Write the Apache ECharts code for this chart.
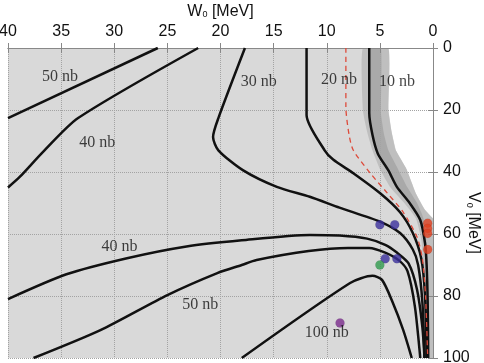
<!DOCTYPE html>
<html>
<head>
<meta charset="utf-8">
<script src="https://cdn.jsdelivr.net/npm/echarts@6/dist/echarts.min.js"></script>
<style>
  html, body { margin: 0; padding: 0; background: #fff; }
  #chart { width: 484px; height: 363px; }
</style>
</head>
<body>
<div id="chart"></div>
<script>
// axis ticks
var wTicks = [0, 40, 5];   // min, max, interval  (W0, MeV)
var vTicks = [0, 100, 20]; // min, max, interval  (V0, MeV)

// contour lines, points are [W0, V0] in MeV
var c10 = [[6.0,0],[6.0,21],[5.7,28],[5.2,34],[4.2,39.5],[3.4,44.8],[2.2,50],[1.2,55.5],[0.75,63],[0.6,70],[0.5,82],[0.45,100]];
var c20 = [[11.9,0],[11.9,21.6],[10.2,33],[9.4,36],[7.5,40.4],[5.0,46.8],[3.1,53],[1.9,59.7],[1.1,68],[0.75,80],[0.6,100]];
var c30 = [[17.7,0],[20.2,22.6],[20.7,28.7],[20.2,33],[17.9,39.4],[14.7,44.8],[11.6,48],[8.8,51.5],[5.0,56],[3.1,59.7],[1.9,65],[1.4,70],[1.0,82],[0.8,100]];
var c40a = [[22.1,0],[33.4,22.6],[36.7,33.5],[38.9,41.6],[40,45]];
var c50a = [[25.9,0],[40,22.6]];
var c40b = [[40,81],[34.5,73],[28.8,67.8],[23.2,64],[18,62],[11.6,60.3],[8.8,60.5],[6.2,61.5],[4.5,63.5],[3.4,66],[2.3,69.5],[1.5,78],[1.0,90],[0.8,100]];
var c50b = [[37.6,100],[31.3,91],[25,79.7],[20.3,72.6],[18,70],[16.6,68.4],[11.7,65.5],[8,64.5],[6,64.5],[4.5,66],[3.2,68.5],[2.4,72],[1.7,83.5],[1.2,100]];
var c100 = [[18,100],[7.8,75.8],[5.7,73.5],[4.8,74.8],[3.8,82],[2.8,91],[2.0,100]];
var dashed = [[8.2,0],[8.2,19],[7.9,28],[7.5,33],[5.9,40.4],[4.3,46.8],[2.8,53],[1.5,61],[1.0,68],[0.7,80],[0.5,100]];

// shaded band round the 10 nb line
var bandLeft = [[6.6,0],[6.6,20],[6.2,27],[5.7,33],[5.0,39],[4.0,45],[2.7,50],[1.6,55],[1.1,62],[0.85,75],[0.7,100]];
var bandRight = [[4.2,0],[4.2,20],[3.9,27],[3.5,33],[2.5,39],[1.6,47],[0.8,52],[0,55]];
var innerRight = [[4.9,0],[4.9,21],[4.6,28],[4.2,33],[3.3,39],[2.4,45],[1.5,50],[0.9,55],[0.6,63],[0.5,75],[0.45,100]];

// measured points
var bluePts = [[5.0,57],[3.6,57],[4.5,68],[3.4,68]];
var redPts = [[0.5,56.5],[0.5,58.2],[0.5,59.8],[0.5,65]];
var greenPts = [[5.0,70]];
var purplePts = [[8.75,88.7]];

// contour labels
var labelText = ['50 nb','40 nb','30 nb','20 nb','10 nb','40 nb','50 nb','100 nb'];
var labelW = [35.1, 31.6, 16.4, 8.85, 3.4, 29.5, 21.9, 10.0];
var labelV = [9.4, 30.6, 11, 10.3, 11, 64.2, 82.9, 92];

var myChart = echarts.init(document.getElementById('chart'));

function contour(data) {
    return {
        type: 'line', data: data, showSymbol: false, smooth: 0.25,
        lineStyle: { color: '#111', width: 2.5 }, z: 3, silent: true
    };
}
function dots(data, color) {
    return {
        type: 'scatter', data: data, symbolSize: 9, z: 5,
        itemStyle: { color: color, borderColor: 'rgba(0,0,0,0.15)', borderWidth: 0.5 }
    };
}

var labelData = labelText.map(function (t, i) {
    return { name: t, value: [labelW[i], labelV[i]] };
});

var axisFont = { color: '#111', fontSize: 16, fontFamily: 'Liberation Sans' };
var nameRich = {
    a: { fontSize: 16, fontFamily: 'Liberation Sans', color: '#111' },
    s: { fontSize: 9, fontFamily: 'Liberation Sans', color: '#111', verticalAlign: 'bottom' }
};

var option = {
    animation: false,
    grid: { left: 8, right: 51, top: 48, bottom: 5, show: false, outerBoundsMode: 'none', containLabel: false },
    xAxis: [{
        type: 'value', position: 'top', inverse: true,
        min: wTicks[0], max: wTicks[1], interval: wTicks[2],
        name: '{a|W}{s|0}{a| [MeV]}', nameLocation: 'middle', nameGap: 28,
        nameTextStyle: { rich: nameRich },
        axisLine: { lineStyle: { color: '#888' } },
        axisTick: { inside: true, length: 5, lineStyle: { color: '#888' } },
        axisLabel: Object.assign({ margin: 8 }, axisFont),
        splitLine: { show: true, lineStyle: { type: 'dotted', color: '#a3a3a3' } }
    }, {
        type: 'value', position: 'bottom', inverse: true,
        min: wTicks[0], max: wTicks[1], interval: wTicks[2],
        axisLine: { lineStyle: { color: '#888' } },
        axisTick: { inside: true, length: 5, lineStyle: { color: '#888' } },
        axisLabel: { show: false }, splitLine: { show: false }
    }],
    yAxis: [{
        type: 'value', position: 'right', inverse: true,
        min: vTicks[0], max: vTicks[1], interval: vTicks[2],
        name: '{a|V}{s|0}{a| [MeV]}', nameLocation: 'middle', nameGap: 32, nameRotate: -90,
        nameMoveOverlap: false,
        nameTextStyle: { rich: nameRich, padding: [0, 0, 0, 40] },
        axisLine: { lineStyle: { color: '#888' } },
        axisTick: { inside: true, length: 5, lineStyle: { color: '#888' } },
        axisLabel: Object.assign({ margin: 10 }, axisFont),
        splitLine: { show: true, lineStyle: { type: 'dotted', color: '#a3a3a3' } }
    }, {
        type: 'value', position: 'left', inverse: true,
        min: vTicks[0], max: vTicks[1], interval: vTicks[2],
        axisLine: { lineStyle: { color: '#888' } },
        axisTick: { inside: true, length: 5, lineStyle: { color: '#888' } },
        axisLabel: { show: false }, splitLine: { show: false }
    }],
    series: [
        {
            type: 'custom', data: [[0, 0]], z: -5, silent: true, clip: true,
            renderItem: function (params, api) {
                var pts = function (arr) { return arr.map(function (p) { return api.coord(p); }); };
                var bg = pts([[40,0],[0,0],[0,100],[40,100]]);
                var white = pts(bandRight.concat([[0,0]]));
                var band = pts(bandLeft.concat([[0,100],[0,55]], bandRight.slice().reverse()));
                var inner = pts(c10.concat(innerRight.slice().reverse()));
                return {
                    type: 'group',
                    children: [
                        { type: 'polygon', shape: { points: bg }, style: { fill: '#d9d9d9' } },
                        { type: 'polygon', shape: { points: white }, style: { fill: '#ffffff' } },
                        { type: 'polygon', shape: { points: band, smooth: 0.15 }, style: { fill: '#bfbfbf' } },
                        { type: 'polygon', shape: { points: inner, smooth: 0.15 }, style: { fill: '#a9a9a9' } }
                    ]
                };
            }
        },
        contour(c50a), contour(c40a), contour(c30), contour(c20), contour(c10),
        contour(c40b), contour(c50b), contour(c100),
        {
            type: 'line', data: dashed, showSymbol: false, smooth: 0.25, z: 3,
            lineStyle: { color: '#dd4a3a', width: 1.3, type: [5, 4] }
        },
        dots(bluePts, '#3b2f9c'), dots(redPts, '#e0401f'), dots(greenPts, '#2f9a4c'), dots(purplePts, '#7b2c8c'),
        {
            type: 'scatter', data: labelData, symbolSize: 0, z: 6,
            label: {
                show: true, position: 'inside', formatter: '{b}',
                color: '#111', fontSize: 16, fontFamily: 'Liberation Serif'
            }
        }
    ]
};

myChart.setOption(option);
</script>
</body>
</html>
